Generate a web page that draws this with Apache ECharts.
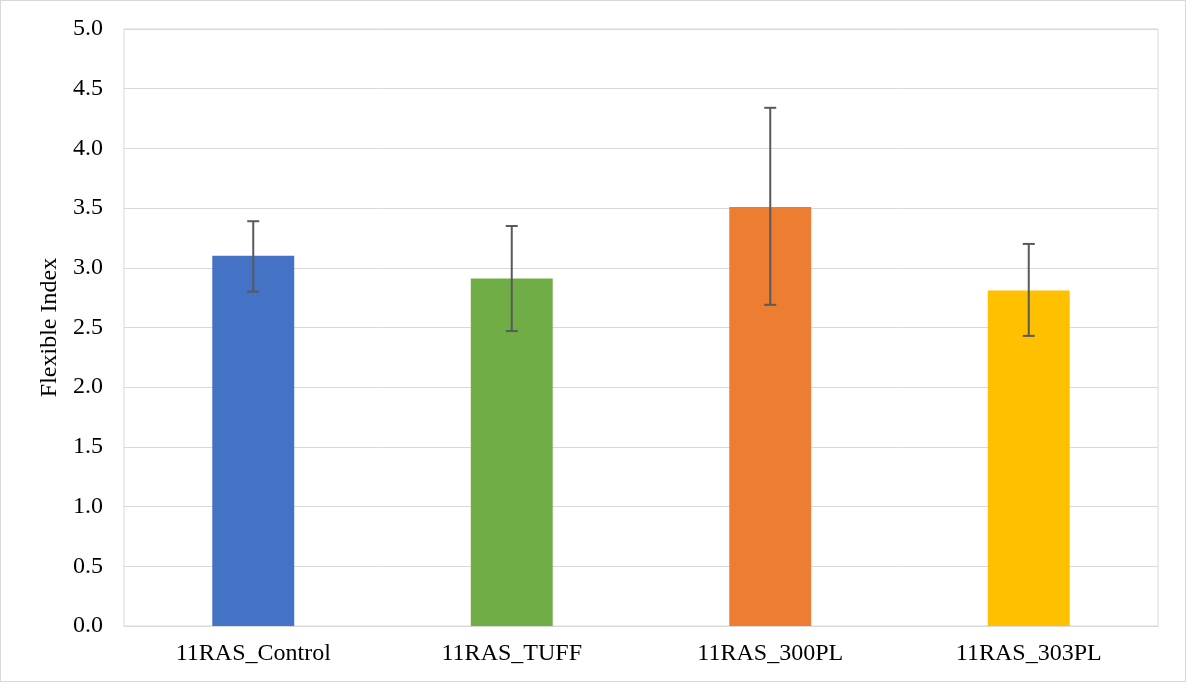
<!DOCTYPE html>
<html><head><meta charset="utf-8">
<script src="https://cdn.jsdelivr.net/npm/echarts@6/dist/echarts.min.js"></script>
<style>html,body{margin:0;padding:0;background:#fff}#c{width:1186px;height:682px;box-sizing:border-box;border:1px solid #d9d9d9}</style>
</head><body><div id="c"></div>
<script>
const categories = ['11RAS_Control', '11RAS_TUFF', '11RAS_300PL', '11RAS_303PL'];
const means = [3.10, 2.91, 3.51, 2.81];
const errLow = [2.80, 2.47, 2.69, 2.43];
const errHigh = [3.39, 3.35, 4.34, 3.20];
const colors = ['#4472C4', '#70AD47', '#ED7D31', '#FFC000'];
const yTicks = ['0.0','0.5','1.0','1.5','2.0','2.5','3.0','3.5','4.0','4.5','5.0'];

const chart = echarts.init(document.getElementById('c'));
const font = '"Liberation Serif", "Times New Roman", serif';
chart.setOption({
  animation: false,
  grid: { left: 123, right: 27, top: 28, bottom: 55, show: true, borderColor: '#d9d9d9', borderWidth: 1 },
  xAxis: {
    type: 'category', data: categories,
    axisLine: { show: true, lineStyle: { color: '#d9d9d9', width: 1 } },
    axisTick: { show: false },
    axisLabel: { color: '#000', fontFamily: font, fontSize: 24, margin: 16 }
  },
  yAxis: {
    type: 'value', min: 0, max: 5, interval: 0.5,
    name: 'Flexible Index', nameLocation: 'middle', nameGap: 62,
    nameTextStyle: { color: '#000', fontFamily: font, fontSize: 24 },
    axisLine: { show: false }, axisTick: { show: false },
    splitLine: { lineStyle: { color: '#d9d9d9', width: 1 } },
    axisLabel: { color: '#000', fontFamily: font, fontSize: 24, margin: 21,
      formatter: v => yTicks[Math.round(v / 0.5)] }
  },
  series: [
    {
      type: 'bar', barWidth: '31.7%',
      data: means.map((v, i) => ({ value: v, itemStyle: { color: colors[i] } }))
    },
    {
      type: 'custom',
      data: categories.map((c, i) => [i, errLow[i], errHigh[i]]),
      renderItem: function (params, api) {
        const x = api.value(0);
        const lo = api.coord([x, api.value(1)]);
        const hi = api.coord([x, api.value(2)]);
        const hw = 6;
        const style = { stroke: '#595959', lineWidth: 2 };
        return { type: 'group', children: [
          { type: 'line', shape: { x1: lo[0], y1: lo[1], x2: hi[0], y2: hi[1] }, style },
          { type: 'line', shape: { x1: lo[0]-hw, y1: lo[1], x2: lo[0]+hw, y2: lo[1] }, style },
          { type: 'line', shape: { x1: hi[0]-hw, y1: hi[1], x2: hi[0]+hw, y2: hi[1] }, style }
        ]};
      },
      z: 10
    }
  ]
});
</script></body></html>
